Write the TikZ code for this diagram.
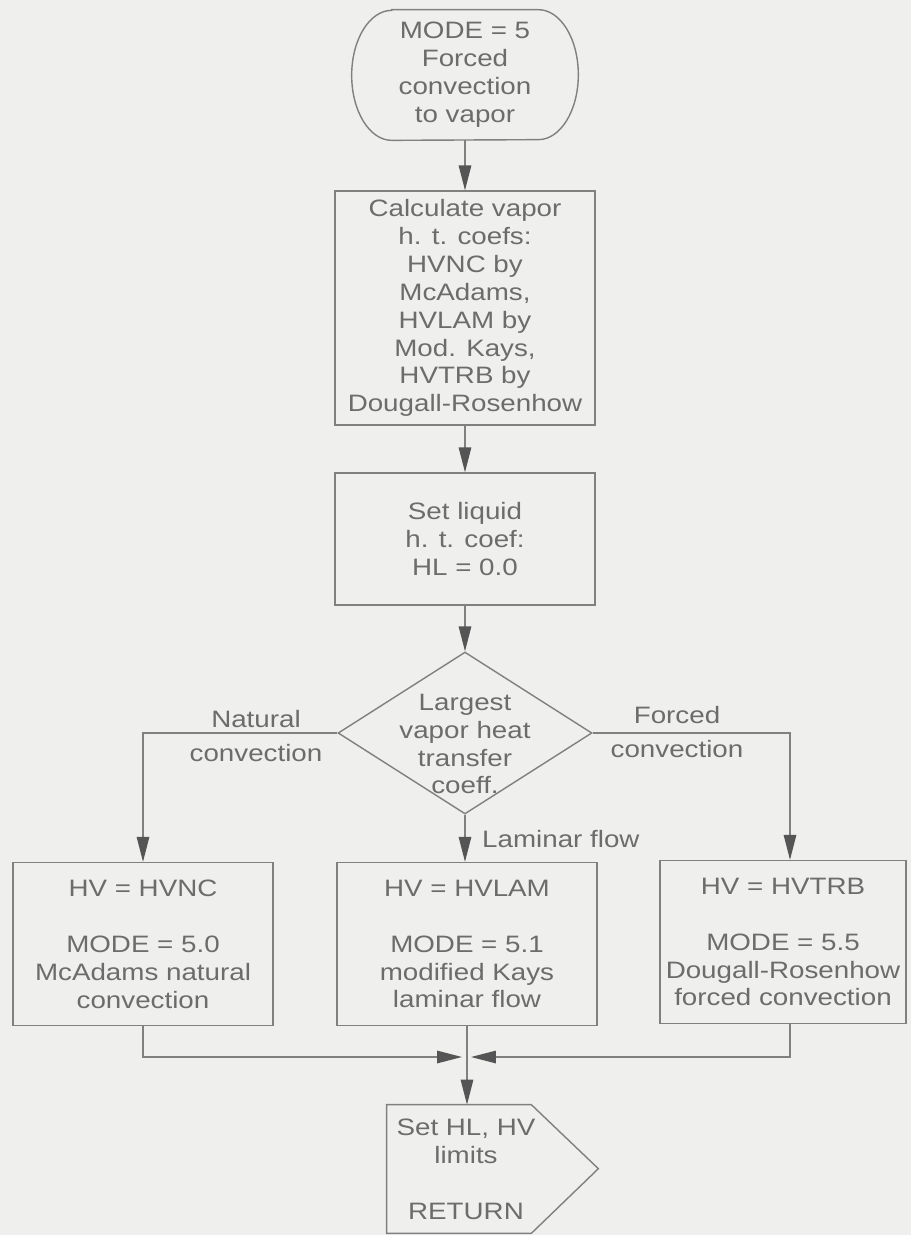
\documentclass[tikz,border=0pt]{standalone}
\usepackage{fontspec}
\setmainfont{Liberation Sans}[FakeStretch=1.17]
\usepackage{tikz}
\usetikzlibrary{arrows.meta}
\usetikzlibrary{shapes.geometric}

\definecolor{paper}{RGB}{239,239,237}
\definecolor{ink}{RGB}{128,128,128}
\definecolor{textink}{RGB}{108,108,108}
\definecolor{tipink}{RGB}{85,85,85}

\begin{document}
\begin{tikzpicture}[x=0.02cm, y=-0.02cm,
        font=\fontsize{13.5}{15.9}\selectfont, text=textink,
        box/.style={draw=ink, line width=0.8pt, rectangle, align=center, inner xsep=1pt, minimum width=5.2cm},
        term/.style={rectangle, align=center, minimum width=4.52cm, minimum height=2.6cm},
        decision/.style={draw=ink, line width=0.8pt, diamond, minimum width=5.08cm, minimum height=3.24cm, inner sep=0pt},
        lbl/.style={align=center},
        line/.style={draw=ink, line width=0.8pt, -{Triangle[length=0.5cm, width=0.25cm, color=tipink]}}]
        \fill[paper] (0,0) rectangle (911,1235);

        \node[term] (start) at (465,75) {MODE = 5\\Forced\\convection\\to vapor};
        \draw[ink, line width=0.8pt] ([xshift=0.8cm]start.north west) -- ([xshift=-0.8cm]start.north east)
            arc[start angle=90, end angle=-90, x radius=0.8cm, y radius=1.3cm]
            -- ([xshift=0.8cm]start.south west)
            arc[start angle=270, end angle=90, x radius=0.8cm, y radius=1.3cm] -- cycle;
        \node[box, minimum height=4.68cm] (calc) at (465,308) {Calculate vapor\\h. t. coefs:\\HVNC by\\McAdams,\\HVLAM by\\Mod. Kays,\\HVTRB by\\Dougall-Rosenhow};
        \node[box, minimum height=2.64cm] (setliq) at (465,539) {Set liquid\\h. t. coef:\\HL = 0.0};
        \node[decision] (cmp) at (465,733) {};
        \node[lbl] (cmptxt) at (465,744) {Largest\\vapor heat\\transfer\\coeff.};

        \node[lbl] (natlbl) at (256,736) {Natural\\[0.14cm]convection};
        \node[lbl] (forlbl) at (677,732) {Forced\\[0.12cm]convection};
        \node[anchor=west] (lamlbl) at (476,839) {Laminar flow};

        \node[box, minimum height=3.26cm] (ncbox) at (143,944) {HV = HVNC\\[0.56cm]MODE = 5.0\\McAdams natural\\convection};
        \node[box, minimum height=3.26cm] (lambox) at (467,944) {HV = HVLAM\\[0.56cm]MODE = 5.1\\modified Kays\\laminar flow};
        \node[box, minimum width=4.92cm, minimum height=3.26cm] (trbbox) at (783,942) {HV = HVTRB\\[0.56cm]MODE = 5.5\\Dougall-Rosenhow\\forced convection};

        \node[align=center, inner xsep=0pt, minimum width=2.88cm, minimum height=2.56cm] (ret) at (466,1169) {Set HL, HV\\limits\\[0.56cm]RETURN};
        \draw[ink, line width=0.8pt] ([xshift=-0.14cm]ret.north west) -- ([xshift=-0.14cm]ret.north east) -- ++(67,64)
            -- ([xshift=-0.14cm]ret.south east) -- ([xshift=-0.14cm]ret.south west) -- cycle;

        \coordinate (rdrop) at (790,733);
        \coordinate (joinl) at (462,1057);
        \coordinate (joinr) at (471,1057);

        \draw[line] (start) -- (calc);
        \draw[line] (calc) -- (setliq);
        \draw[line] (setliq) -- (cmp);
        \draw[line] (cmp.west) -| (ncbox.north);
        \draw[line] (cmp.east) -- (rdrop) -- (rdrop |- trbbox.north);
        \draw[line] (cmp.south) -- (cmp.south |- lambox.north);
        \draw[line] (ncbox.south) |- (joinl);
        \draw[line] (rdrop |- trbbox.south) |- (joinr);
        \draw[line] (lambox.south) -- (lambox.south |- ret.north);
    \end{tikzpicture}
\end{document}
